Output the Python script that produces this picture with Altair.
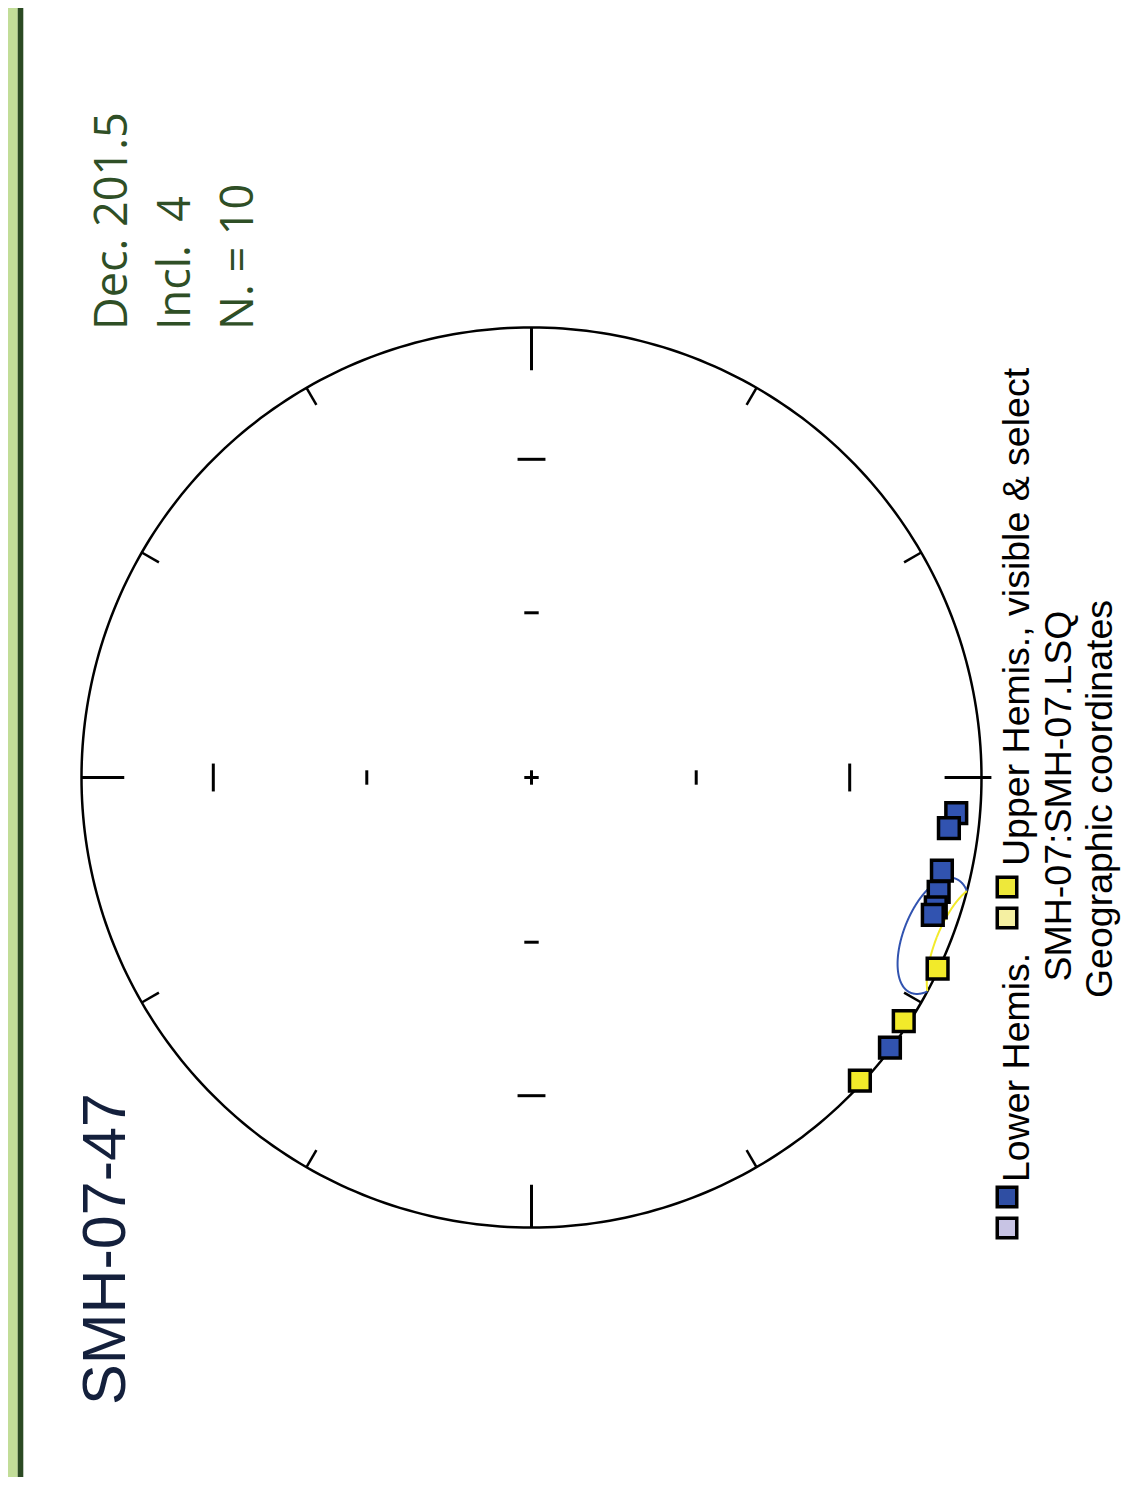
import altair as alt
import pandas as pd

# ---------------- data ----------------
title_text = "SMH-07-47"
stat_lines = ["Dec. 201.5", "Incl.\u00a0 4", "N. = 10"]
legend_labels = ["Lower Hemis.", "Upper Hemis., visible & select"]
footer_lines = ["SMH-07:SMH-07.LSQ", "Geographic coordinates"]

mean_dec = 201.5
mean_inc = 4.0
ellipse_dec_half = 8.1
ellipse_inc_half = 7.6

point_dec = [184.8, 186.9, 192.8, 195.7, 197.8, 198.9, 217.0, 205.2, 213.2, 222.7]
point_inc = [5.9, 7.3, 7.2, 6.7, 6.3, 6.4, 0.3, -0.3, -1.3, -0.8]

rim_tick_angles = [30, 60, 120, 150, 210, 240, 300, 330]
cardinal_angles = [0, 90, 180, 270]
inner_tick_inc = [30, 60]
hemispheres = ["Lower", "Upper"]

# ---------------- styling / layout ----------------
BLUE = "#2f4ea3"
YELLOW = "#eee83a"
ELL_BLUE = "#3153b0"
ELL_YELLOW = "#f2ea2a"
W, H = 1113, 1469
CX, CY, R = 523.5, 769.5, 450.0
xs = alt.Scale(domain=[-CX / R, (W - CX) / R], nice=False, zero=False)
ys = alt.Scale(domain=[-(H - CY) / R, CY / R], nice=False, zero=False)


def X(f):
    return alt.X(f, type="quantitative", scale=xs, axis=None)


def Y(f):
    return alt.Y(f, type="quantitative", scale=ys, axis=None)


def eqarea(expr):
    return f"sqrt(2)*sin((90-abs({expr}))*PI/360)"


one = pd.DataFrame({"k": [0]})

bar_light = alt.Chart(one).mark_rect(color="#c2dd98").encode(
    x=alt.value(0), x2=alt.value(9.7), y=alt.value(0), y2=alt.value(H))
bar_dark = alt.Chart(one).mark_rect(color="#2b4a23").encode(
    x=alt.value(9.7), x2=alt.value(15.3), y=alt.value(0), y2=alt.value(H))

circle = alt.Chart(alt.sequence(0, 361, 1, as_="t")).transform_calculate(
    x="cos(datum.t*PI/180)", y="sin(datum.t*PI/180)"
).mark_line(color="black", strokeWidth=2.5).encode(x=X("x"), y=Y("y"), order="t:Q")

card = alt.Chart(pd.DataFrame({"ang": cardinal_angles})).transform_calculate(
    ra="datum.ang == 180 ? 1.022 : 1.0",
    rb="datum.ang == 180 ? 0.918 : 0.905",
    xa="-datum.ra*cos(datum.ang*PI/180)", ya="datum.ra*sin(datum.ang*PI/180)",
    xb="-datum.rb*cos(datum.ang*PI/180)", yb="datum.rb*sin(datum.ang*PI/180)",
).mark_rule(color="black", strokeWidth=3).encode(
    x=X("xa"), y=Y("ya"), x2=alt.X2("xb"), y2=alt.Y2("yb"))

rim = alt.Chart(pd.DataFrame({"ang": rim_tick_angles})).transform_calculate(
    xa="-cos(datum.ang*PI/180)", ya="sin(datum.ang*PI/180)",
    xb="-0.956*cos(datum.ang*PI/180)", yb="0.956*sin(datum.ang*PI/180)",
).mark_rule(color="black", strokeWidth=2.5).encode(
    x=X("xa"), y=Y("ya"), x2=alt.X2("xb"), y2=alt.Y2("yb"))

inner_rows = [(a, i) for a in cardinal_angles for i in inner_tick_inc] + [(0, 90), (90, 90)]
inner_df = pd.DataFrame(inner_rows, columns=["ang", "inc"])
inner = alt.Chart(inner_df).transform_calculate(
    rad=eqarea("datum.inc"),
    half="datum.inc == 30 ? 0.031 : 0.016",
    cx="-datum.rad*cos(datum.ang*PI/180)", cy="datum.rad*sin(datum.ang*PI/180)",
    xa="datum.cx + datum.half*sin(datum.ang*PI/180)",
    ya="datum.cy + datum.half*cos(datum.ang*PI/180)",
    xb="datum.cx - datum.half*sin(datum.ang*PI/180)",
    yb="datum.cy - datum.half*cos(datum.ang*PI/180)",
).mark_rule(color="black", strokeWidth=3).encode(
    x=X("xa"), y=Y("ya"), x2=alt.X2("xb"), y2=alt.Y2("yb"))

hemi_color = alt.Scale(domain=hemispheres, range=[BLUE, YELLOW])
ell_color = alt.Scale(domain=hemispheres, range=[ELL_BLUE, ELL_YELLOW])

ellipse = alt.Chart(alt.sequence(0, 360.5, 0.5, as_="s")).transform_calculate(
    t="(datum.s - 90)*PI/180",
    dec=f"{mean_dec} + {ellipse_dec_half}*cos(datum.t)",
    inc=f"{mean_inc} + {ellipse_inc_half}*sin(datum.t)",
    hemi="datum.inc >= 0 ? 'Lower' : 'Upper'",
    seg="datum.inc >= 0 ? 'L' : (datum.s < 180 ? 'U1' : 'U2')",
    r=eqarea("datum.inc"),
    x="-datum.r*cos(datum.dec*PI/180)",
    y="datum.r*sin(datum.dec*PI/180)",
).mark_line(strokeWidth=2).encode(
    x=X("x"), y=Y("y"), order="s:Q", detail="seg:N",
    color=alt.Color("hemi:N", scale=ell_color, legend=None))

pts = pd.DataFrame({"dec": point_dec, "inc": point_inc})
points = alt.Chart(pts).transform_calculate(
    hemi="datum.inc >= 0 ? 'Lower' : 'Upper'",
    r=eqarea("datum.inc"),
    x="-datum.r*cos(datum.dec*PI/180)",
    y="datum.r*sin(datum.dec*PI/180)",
).mark_square(size=430, filled=True, stroke="black", strokeWidth=3.5, opacity=1).encode(
    x=X("x"), y=Y("y"), color=alt.Color("hemi:N", scale=hemi_color, legend=None))


def label(text, px, py, size, font, color, align="left"):
    return alt.Chart(pd.DataFrame({"t": [text]})).mark_text(
        angle=270, align=align, baseline="alphabetic", font=font,
        fontSize=size, color=color).encode(
        text="t:N", x=alt.value(px - 8), y=alt.value(py - 8))


def legend_square(px, py, fill):
    return alt.Chart(one).mark_square(size=380, filled=True, stroke="black",
                                      strokeWidth=3.5, opacity=1, color=fill).encode(
        x=alt.value(px - 8), y=alt.value(py - 8))


LEG_FONT = "Liberation Sans, Arial, sans-serif"
texts = [
    label(title_text, 125, 1405, 61, "Liberation Sans, Arial", "#14203c"),
    label(stat_lines[0], 127, 330, 45, "Open Sans", "#2f4f26"),
    label(stat_lines[1], 190, 330, 45, "Open Sans", "#2f4f26"),
    label(stat_lines[2], 253, 330, 45, "Open Sans", "#2f4f26"),
    label(legend_labels[0], 1029, 1182, 37.5, LEG_FONT, "black"),
    label(legend_labels[1], 1029, 866, 37.5, LEG_FONT, "black"),
    label(footer_lines[0], 1071, 796, 37.5, LEG_FONT, "black", align="center"),
    label(footer_lines[1], 1112, 799, 37.5, LEG_FONT, "black", align="center"),
]
legend_sq = [
    legend_square(1007, 1228, "#c8c4e4"),
    legend_square(1007, 1197, BLUE),
    legend_square(1007, 918, "#f5f0a2"),
    legend_square(1007, 887, YELLOW),
]

chart = alt.layer(
    bar_light, bar_dark, circle, card, rim, inner, ellipse, points, *texts, *legend_sq
).properties(
    width=W, height=H, autosize=alt.AutoSizeParams(type="none"), padding=0
).configure_view(stroke=None)

chart.save("out.html", embed_options={"renderer": "svg", "actions": False})
